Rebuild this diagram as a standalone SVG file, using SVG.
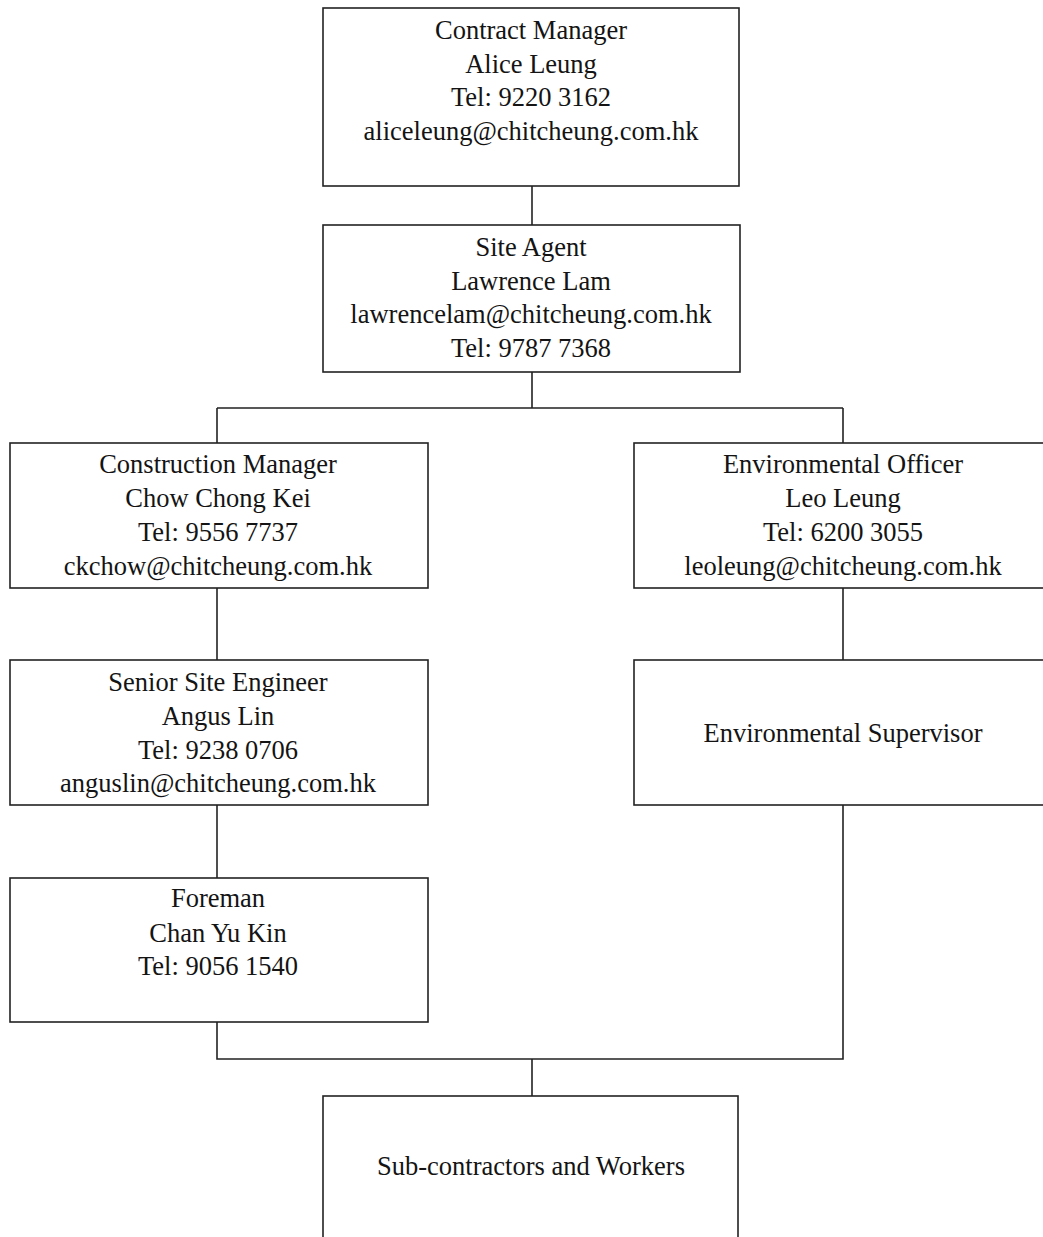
<svg xmlns="http://www.w3.org/2000/svg" width="1043" height="1237" viewBox="0 0 1043 1237">
<style>
.box{fill:#fff;stroke:#222;stroke-width:1.6}
.ln{fill:none;stroke:#222;stroke-width:1.6}
text{font-family:"Liberation Serif","Times New Roman",serif;font-size:26.5px;fill:#141414;text-anchor:middle}
</style>
<rect width="1043" height="1237" fill="#fff"/>
<g id="connectors">
<path class="ln" d="M532 186V225"/>
<path class="ln" d="M532 372V408M217 408H843M217 408V443M843 408V443"/>
<path class="ln" d="M217 588V660M843 588V660"/>
<path class="ln" d="M217 805V878"/>
<path class="ln" d="M217 1022V1059H843V805M532 1059V1096"/>
</g>
<g id="contract-manager">
<rect class="box" x="323" y="8" width="416" height="178"/>
<text x="531" y="39">Contract Manager</text>
<text x="531" y="72.5">Alice Leung</text>
<text x="531" y="106">Tel: 9220 3162</text>
<text x="531" y="139.5">aliceleung@chitcheung.com.hk</text>
</g>
<g id="site-agent">
<rect class="box" x="323" y="225" width="417" height="147"/>
<text x="531" y="256">Site Agent</text>
<text x="531" y="289.5">Lawrence Lam</text>
<text x="531" y="323">lawrencelam@chitcheung.com.hk</text>
<text x="531" y="356.5">Tel: 9787 7368</text>
</g>
<g id="construction-manager">
<rect class="box" x="10" y="443" width="418" height="145"/>
<text x="218" y="473">Construction Manager</text>
<text x="218" y="507">Chow Chong Kei</text>
<text x="218" y="541">Tel: 9556 7737</text>
<text x="218" y="575">ckchow@chitcheung.com.hk</text>
</g>
<g id="environmental-officer">
<rect class="box" x="634" y="443" width="420" height="145"/>
<text x="843" y="473">Environmental Officer</text>
<text x="843" y="507">Leo Leung</text>
<text x="843" y="541">Tel: 6200 3055</text>
<text x="843" y="575">leoleung@chitcheung.com.hk</text>
</g>
<g id="senior-site-engineer">
<rect class="box" x="10" y="660" width="418" height="145"/>
<text x="218" y="691">Senior Site Engineer</text>
<text x="218" y="725">Angus Lin</text>
<text x="218" y="758.5">Tel: 9238 0706</text>
<text x="218" y="792">anguslin@chitcheung.com.hk</text>
</g>
<g id="environmental-supervisor">
<rect class="box" x="634" y="660" width="420" height="145"/>
<text x="843" y="742">Environmental Supervisor</text>
</g>
<g id="foreman">
<rect class="box" x="10" y="878" width="418" height="144"/>
<text x="218" y="907">Foreman</text>
<text x="218" y="942">Chan Yu Kin</text>
<text x="218" y="975">Tel: 9056 1540</text>
</g>
<g id="sub-contractors">
<rect class="box" x="323" y="1096" width="415" height="160"/>
<text x="531" y="1175">Sub-contractors and Workers</text>
</g>
</svg>
